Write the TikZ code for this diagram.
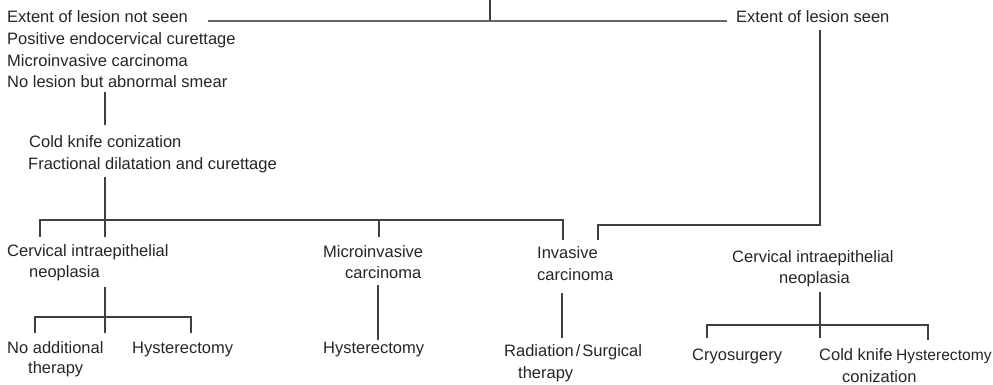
\documentclass[tikz,border=0pt]{standalone}
\usepackage{fontspec}
\setmainfont{Liberation Sans}
\begin{document}
\begin{tikzpicture}[x=1pt,y=-1pt,
  lbl/.style={anchor=base west,inner sep=0pt,font=\fontsize{16.5}{20}\selectfont,text=black!85},
  ln/.style={draw=black!75,line width=1.2pt},
  lnlight/.style={draw=black!60,line width=1.2pt}]
\useasboundingbox[fill=white] (0,0) rectangle (993,384);
% texts
\node[lbl] (t1) at (7,22) {Extent of lesion not seen};
\node[lbl] (t2) at (7,44) {Positive endocervical curettage};
\node[lbl] (t3) at (7,66) {Microinvasive carcinoma};
\node[lbl] (t4) at (7,87) {No lesion but abnormal smear};
\node[lbl] (seen) at (736,22) {Extent of lesion seen};
\node[lbl] (ck1) at (29,147) {Cold knife conization};
\node[lbl] (ck2) at (28,169) {Fractional dilatation and curettage};
\node[lbl] (cinL1) at (7,256) {Cervical intraepithelial};
\node[lbl] (cinL2) at (29,277) {neoplasia};
\node[lbl] (mi1) at (323,257) {Microinvasive};
\node[lbl] (mi2) at (345,278) {carcinoma};
\node[lbl] (inv1) at (537,258) {Invasive};
\node[lbl] (inv2) at (537,280) {carcinoma};
\node[lbl] (cinR1) at (732,262) {Cervical intraepithelial};
\node[lbl] (cinR2) at (779,283) {neoplasia};
\node[lbl] (na1) at (7,353) {No additional};
\node[lbl] (na2) at (28,373) {therapy};
\node[lbl] (hyL) at (132,353) {Hysterectomy};
\node[lbl] (hyM) at (323,353) {Hysterectomy};
\node[lbl] (rad1) at (504,356) {Radiation\kern2pt/\kern2pt Surgical};
\node[lbl] (rad2) at (518,378) {therapy};
\node[lbl] (cryo) at (692,360) {Cryosurgery};
\node[lbl] (ck3) at (819,360) {Cold knife};
\node[lbl,font=\fontsize{15.6}{20}\selectfont] (hyR) at (896,360) {Hysterectomy};
\node[lbl] (ck4) at (842,382) {conization};
% junction coordinates
\coordinate (a0) at (490,0);
\coordinate (aj) at (490,21);
\coordinate (aL) at (208,21);
\coordinate (aR) at (727,21);
\coordinate (b1) at (105,92);
\coordinate (b2) at (105,125);
\coordinate (c1) at (105,177);
\coordinate (c2) at (105,237);
\coordinate (cL0) at (40,237);
\coordinate (cL1) at (40,220);
\coordinate (cR1) at (563,220);
\coordinate (cR0) at (563,240);
\coordinate (cM1) at (379,220);
\coordinate (cM0) at (379,237);
\coordinate (d1) at (820,30);
\coordinate (d2) at (820,225);
\coordinate (d3) at (598,225);
\coordinate (d4) at (598,240);
\coordinate (e1) at (105,287);
\coordinate (e2) at (105,333);
\coordinate (eL0) at (35,333);
\coordinate (eL1) at (35,317);
\coordinate (eR1) at (191,317);
\coordinate (eR0) at (191,333);
\coordinate (f1) at (378,285);
\coordinate (f2) at (378,340);
\coordinate (g1) at (562,293);
\coordinate (g2) at (562,338);
\coordinate (h1) at (820,292);
\coordinate (h2) at (820,338);
\coordinate (hL0) at (707,338);
\coordinate (hL1) at (707,325);
\coordinate (hR1) at (928,325);
\coordinate (hR0) at (928,340);
% connectors
\draw[lnlight] (aL) -- (aR);
\draw[ln] (a0) -- (aj);
\draw[ln] (b1) -- (b2);
\draw[ln] (c1) -- (c2);
\draw[ln] (cL0) -- (cL1) -- (cR1) -- (cR0);
\draw[ln] (cM1) -- (cM0);
\draw[ln] (d1) -- (d2) -- (d3) -- (d4);
\draw[ln] (e1) -- (e2);
\draw[ln] (eL0) -- (eL1) -- (eR1) -- (eR0);
\draw[ln] (f1) -- (f2);
\draw[ln] (g1) -- (g2);
\draw[ln] (h1) -- (h2);
\draw[ln] (hL0) -- (hL1) -- (hR1) -- (hR0);
\end{tikzpicture}
\end{document}
